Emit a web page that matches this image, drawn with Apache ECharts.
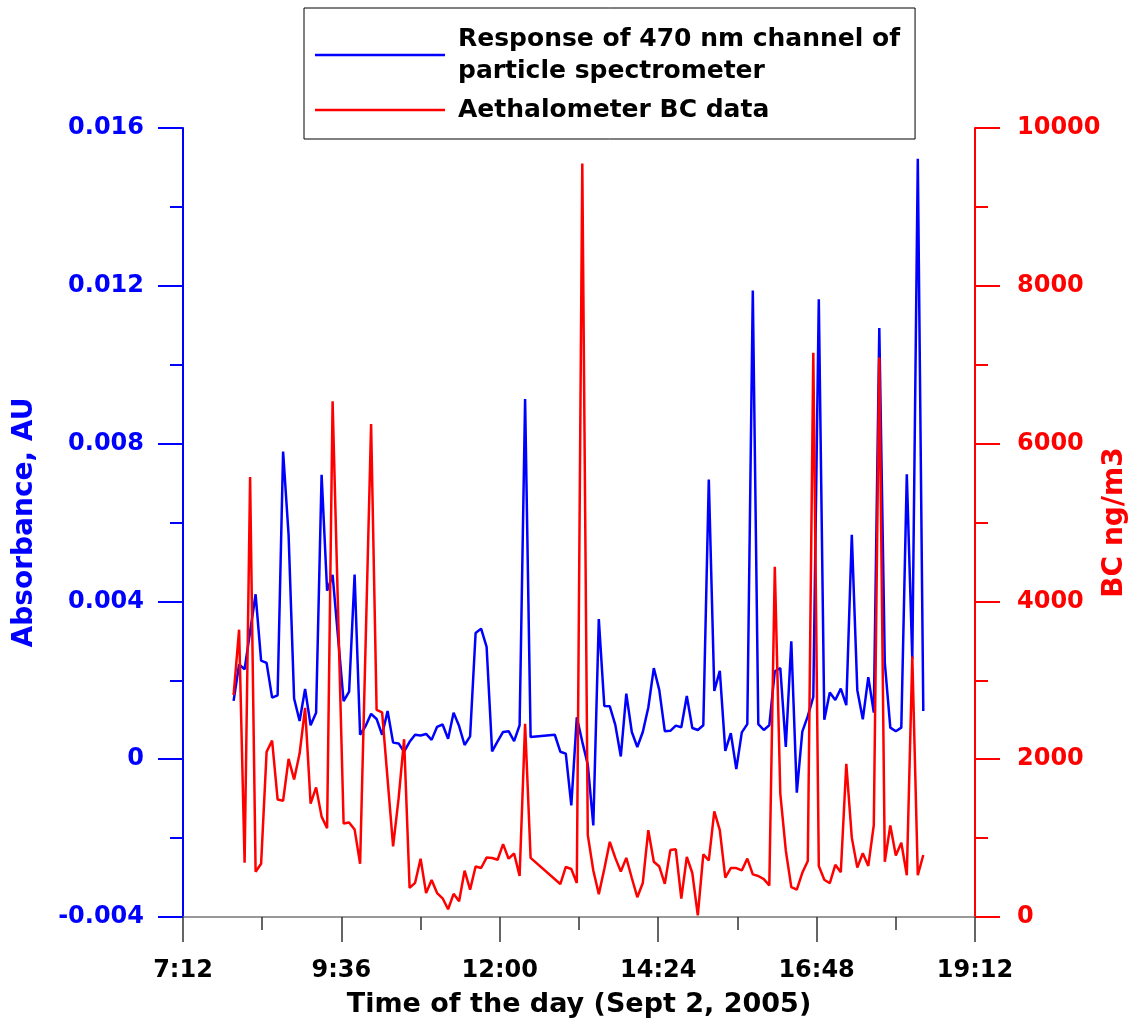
<!DOCTYPE html>
<html>
<head>
<meta charset="utf-8">
<script src="https://cdn.jsdelivr.net/npm/echarts@6/dist/echarts.min.js"></script>
<style>
  html, body { margin: 0; padding: 0; background: #fff; }
  #chart { width: 1137px; height: 1028px; }
</style>
</head>
<body>
<div id="chart"></div>
<script>
// Sampling times (local time, Sept 2, 2005)
const sampleTimes = [
  '7:58','8:03','8:08','8:13','8:18','8:23','8:28','8:33','8:38','8:43',
  '8:48','8:53','8:58','9:03','9:08','9:13','9:18','9:23','9:28',
  '9:38','9:43','9:48','9:53','9:58','10:03','10:08','10:13','10:18','10:23',
  '10:28','10:33','10:38','10:43','10:48','10:53','10:58','11:03','11:08','11:13',
  '11:18','11:23','11:28','11:33','11:38','11:43','11:48','11:53','11:58','12:03',
  '12:08','12:13','12:18','12:23','12:28',
  '12:50',
  '12:55','13:00','13:05','13:10','13:15','13:20','13:25','13:30','13:35','13:40',
  '13:45','13:50','13:55','14:00','14:05','14:10','14:15','14:20','14:25','14:30',
  '14:35','14:40','14:45','14:50','14:55','15:00','15:05','15:10','15:15','15:20',
  '15:25','15:30','15:35','15:40','15:45','15:50','15:55','16:00','16:05','16:10',
  '16:15','16:20','16:25','16:30','16:35','16:40','16:45','16:50','16:55','17:00',
  '17:05','17:10','17:15','17:20','17:25','17:30','17:35','17:40','17:45','17:50',
  '17:55','18:00','18:05','18:10','18:15','18:20','18:25'
];

// Absorbance of the 470 nm channel (AU); null = no reading
const absorbance470 = [
  0.00148, 0.00240, 0.00228, null, 0.00418, 0.00250, 0.00244, 0.00156, 0.00162, 0.00780,
  0.00568, 0.00154, 0.00097, 0.00178, 0.00086, 0.00118, 0.00721, 0.00427, 0.00467,
  0.00147, 0.00171, 0.00468, 0.00062, 0.00084, 0.00115, 0.00102, 0.00062, 0.00122, 0.00042,
  0.00040, 0.00019, 0.00044, 0.00062, 0.00060, 0.00064, 0.00049, 0.00082, 0.00088, 0.00052,
  0.00118, 0.00084, 0.00036, 0.00058, 0.00320, 0.00331, 0.00285, 0.00020, 0.00045, 0.00069,
  0.00071, 0.00046, 0.00086, 0.00913, 0.00056,
  0.00062,
  0.00019, 0.00014, -0.00117, 0.00106, 0.00044, -0.00014, -0.00168, 0.00355, 0.00135, 0.00134,
  0.00087, 0.00007, 0.00166, 0.00069, 0.00031, 0.00069, 0.00131, 0.00231, 0.00175, 0.00071,
  0.00072, 0.00085, 0.00081, 0.00160, 0.00079, 0.00074, 0.00086, 0.00709, 0.00173, 0.00224,
  0.00021, 0.00066, -0.00025, 0.00068, 0.00089, 0.01188, 0.00089, 0.00074, 0.00086, 0.00223,
  0.00231, 0.00031, 0.00299, -0.00085, 0.00070, 0.00109, 0.00158, 0.01166, 0.00100, 0.00169,
  0.00150, 0.00179, 0.00137, 0.00569, 0.00175, 0.00101, 0.00208, 0.00118, 0.01093, 0.00245,
  0.00080, 0.00071, 0.00080, 0.00722, 0.00254, 0.01522, 0.00122
];

// Aethalometer black carbon (ng/m3); null = no reading
const blackCarbon = [
  2812, 3641, 687, 5575, 574, 674, 2093, 2237, 1490, 1473,
  2005, 1744, 2071, 2651, 1437, 1643, 1272, 1124, 6536,
  1185, 1198, 1110, 674, null, 6247, 2625, 2594, null, 896,
  1503, 2253, 369, 433, 739, 303, 469, 303, 237, 98,
  294, 200, 587, 347, 639, 621, 753, 748, 726, 923,
  739, 805, 521, 2450, 750,
  null,
  418, 634, 608, 431, 9550, 1037, 589, 290, 608, 953,
  749, 577, 749, 494, 251, 431, 1100, 700, 640, 420,
  848, 858, 233, 762, 558, 20, 793, 717, 1340, 1100,
  500, 620, 620, 590, 740, 540, 520, 480, 400, 4440,
  1565, 843, 378, 346, 560, 710, 7150, 647, 472, 428,
  662, 568, 1940, 1006, 626, 808, 647, 1166, 7092, 700,
  1160, 780, 942, 530, 3300, 530, 786
];

// Axis ranges: [min, max, interval] (hours of day; AU; ng/m3)
const timeRange = [7.2, 19.2, 2.4];
const absorbanceRange = [-0.004, 0.016, 0.004];
const bcRange = [0, 10000, 2000];

const seriesNames = [
  'Response of 470 nm channel of\nparticle spectrometer',
  'Aethalometer BC data'
];

const BLUE = '#0000ff';
const RED = '#ff0000';
const FONT = '"DejaVu Sans", "Liberation Sans", sans-serif';

function toHours(s) {
  const p = s.split(':').map(Number);
  return p[0] + p[1] / 60;
}
function hoursLabel(v) {
  const m = Math.round(v * 60);
  return Math.floor(m / 60) + ':' + String(m % 60).padStart(2, '0');
}

const blueData = sampleTimes.map((t, i) => [toHours(t), absorbance470[i]]);
const redData = sampleTimes.map((t, i) => [toHours(t), blackCarbon[i]]);

const chart = echarts.init(document.getElementById('chart'), null, { renderer: 'canvas' });

chart.setOption({
  animation: false,
  backgroundColor: '#fff',
  grid: {
    left: 183, right: 162, top: 128, bottom: 111,
    containLabel: false, outerBoundsMode: 'none'
  },
  legend: {
    orient: 'vertical',
    left: 304,
    top: 8,
    padding: [15, 15, 13, 11],
    itemGap: 7,
    itemWidth: 130,
    itemHeight: 2.5,
    icon: 'rect',
    borderColor: '#000',
    borderWidth: 1,
    selectedMode: false,
    textStyle: {
      fontFamily: FONT, fontWeight: 'bold', fontSize: 25, lineHeight: 32,
      color: '#000', padding: [0, 0, 0, 8]
    },
    data: seriesNames
  },
  xAxis: {
    type: 'value',
    min: timeRange[0], max: timeRange[1], interval: timeRange[2],
    name: 'Time of the day (Sept 2, 2005)',
    nameLocation: 'middle',
    nameGap: 74,
    nameMoveOverlap: false,
    nameTextStyle: { fontFamily: FONT, fontWeight: 'bold', fontSize: 27, color: '#000' },
    axisLine: { onZero: false, lineStyle: { color: '#777', width: 1.5 } },
    axisTick: { length: 25, lineStyle: { color: '#333', width: 1.5 } },
    minorTick: { show: true, splitNumber: 2, length: 13, lineStyle: { color: '#333', width: 1.5 } },
    splitLine: { show: false },
    axisLabel: {
      margin: 42, fontFamily: FONT, fontWeight: 'bold', fontSize: 24, color: '#000',
      formatter: hoursLabel
    }
  },
  yAxis: [
    {
      type: 'value',
      position: 'left',
      min: absorbanceRange[0], max: absorbanceRange[1], interval: absorbanceRange[2],
      name: 'Absorbance, AU',
      nameLocation: 'middle',
      nameGap: 144,
      nameMoveOverlap: false,
      nameTextStyle: { fontFamily: FONT, fontWeight: 'bold', fontSize: 28, color: BLUE },
      axisLine: { show: true, onZero: false, lineStyle: { color: BLUE, width: 2 } },
      axisTick: { show: true, length: 25, lineStyle: { color: BLUE, width: 2 } },
      minorTick: { show: true, splitNumber: 2, length: 13, lineStyle: { color: BLUE, width: 2 } },
      splitLine: { show: false },
      axisLabel: {
        margin: 39, fontFamily: FONT, fontWeight: 'bold', fontSize: 24, color: BLUE,
        formatter: v => (Math.abs(v) < 1e-9 ? '0' : v.toFixed(3))
      }
    },
    {
      type: 'value',
      position: 'right',
      min: bcRange[0], max: bcRange[1], interval: bcRange[2],
      name: 'BC ng/m3',
      nameLocation: 'middle',
      nameGap: 126,
      nameMoveOverlap: false,
      nameTextStyle: { fontFamily: FONT, fontWeight: 'bold', fontSize: 28, color: RED },
      axisLine: { show: true, onZero: false, lineStyle: { color: RED, width: 2 } },
      axisTick: { show: true, length: 25, lineStyle: { color: RED, width: 2 } },
      minorTick: { show: true, splitNumber: 2, length: 13, lineStyle: { color: RED, width: 2 } },
      splitLine: { show: false },
      axisLabel: {
        margin: 42, fontFamily: FONT, fontWeight: 'bold', fontSize: 24, color: RED,
        formatter: v => String(Math.round(v))
      }
    }
  ],
  series: [
    {
      name: seriesNames[0],
      type: 'line',
      yAxisIndex: 0,
      data: blueData,
      symbol: 'none',
      connectNulls: true,
      lineStyle: { color: BLUE, width: 2.5 },
      itemStyle: { color: BLUE }
    },
    {
      name: seriesNames[1],
      type: 'line',
      yAxisIndex: 1,
      data: redData,
      symbol: 'none',
      connectNulls: true,
      lineStyle: { color: RED, width: 2.5 },
      itemStyle: { color: RED }
    }
  ]
});
</script>
</body>
</html>
